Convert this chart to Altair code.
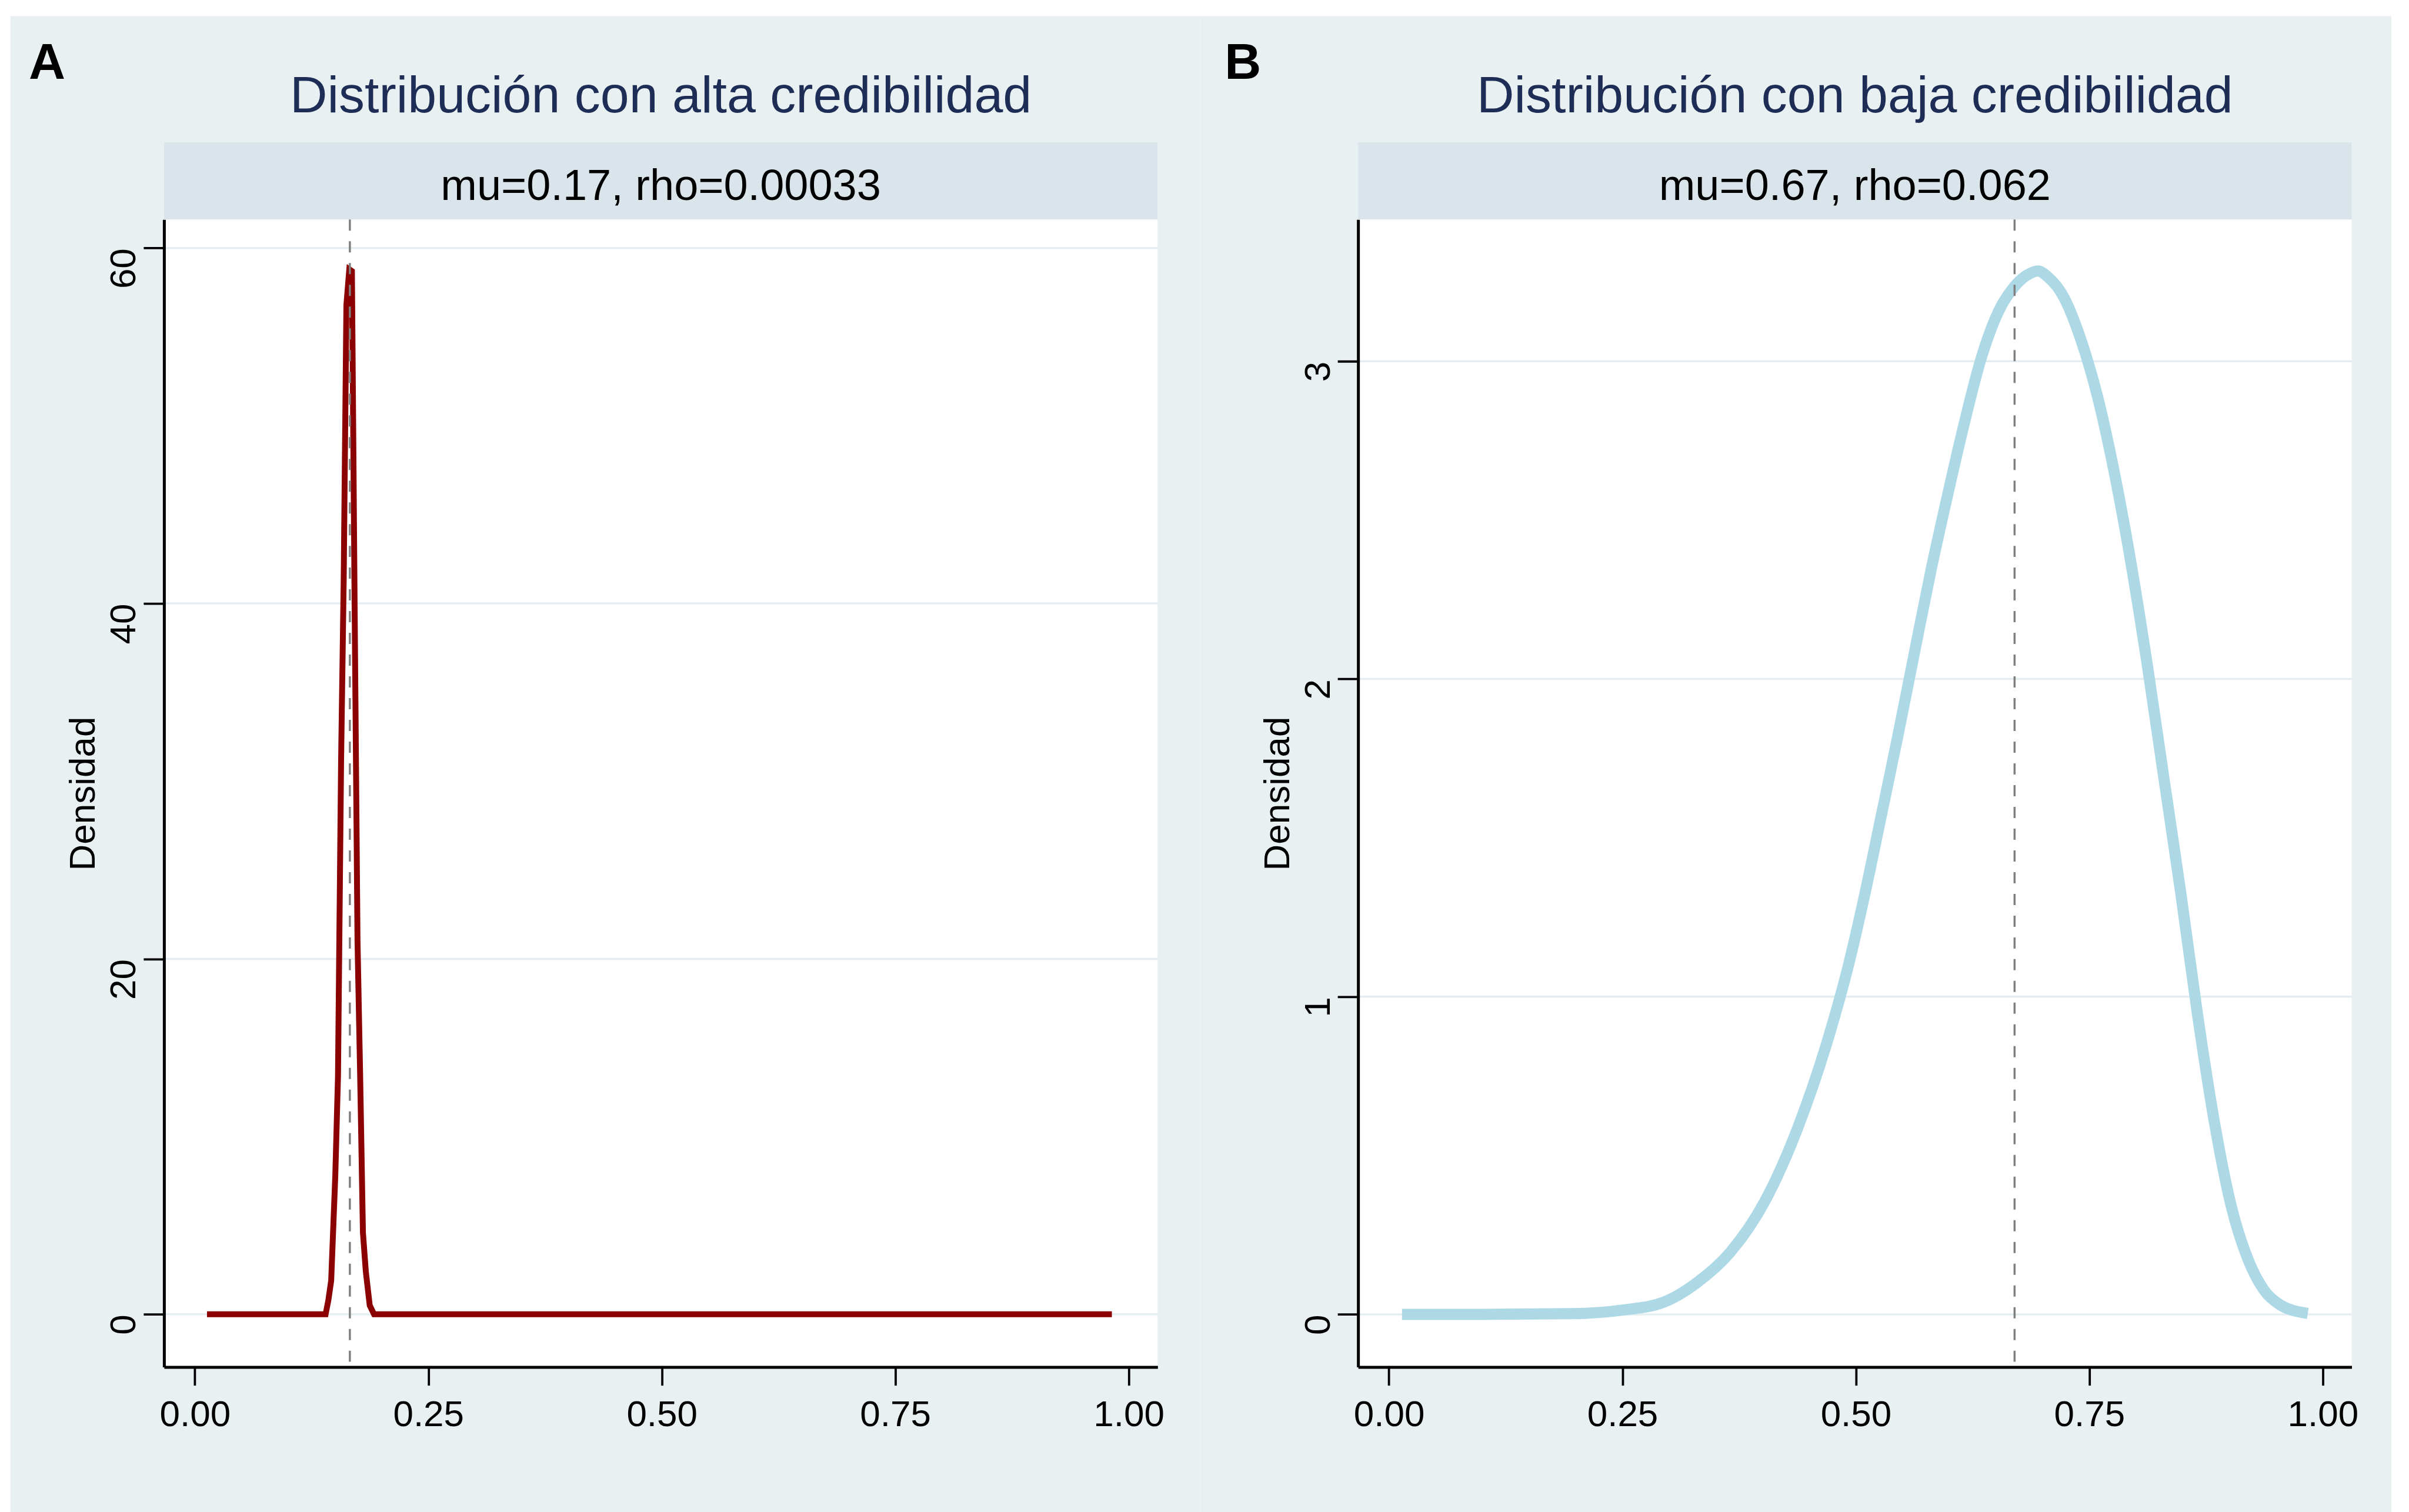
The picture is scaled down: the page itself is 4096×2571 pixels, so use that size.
import altair as alt
import pandas as pd

# ---- data -------------------------------------------------------------
# Panel A: narrow density (high credibility)
a_x = [0.013, 0.140, 0.143, 0.146, 0.1504, 0.1533, 0.1566, 0.1594, 0.1623, 0.1654,
       0.1682, 0.1697, 0.1711, 0.1742, 0.1770, 0.1800, 0.1831, 0.1873, 0.1919, 0.982]
a_y = [0.0, 0.0, 0.8, 1.9, 7.8, 13.4, 31.1, 41.3, 56.8, 58.8,
       58.7, 49.1, 39.9, 21.0, 13.5, 4.6, 2.4, 0.5, 0.0, 0.0]

# Panel B: wide density (low credibility)
b_x = [0.014, 0.100, 0.194, 0.2515, 0.294, 0.330, 0.366, 0.402, 0.437, 0.473,
       0.491, 0.509, 0.527, 0.544, 0.562, 0.580, 0.598, 0.616, 0.634, 0.652,
       0.670, 0.687, 0.695, 0.705, 0.723, 0.741, 0.759, 0.777, 0.795, 0.812,
       0.830, 0.848, 0.866, 0.884, 0.902, 0.920, 0.937, 0.955, 0.984]
b_y = [0.0, 0.0, 0.002, 0.014, 0.038, 0.100, 0.197, 0.353, 0.581, 0.894,
       1.086, 1.314, 1.566, 1.806, 2.071, 2.335, 2.575, 2.803, 3.007, 3.152,
       3.236, 3.277, 3.284, 3.267, 3.200, 3.068, 2.887, 2.647, 2.359, 2.047,
       1.686, 1.326, 0.942, 0.605, 0.341, 0.173, 0.077, 0.029, 0.003]

mus = [0.166, 0.67]
rhos = [0.00033, 0.062]
titles = ["Distribución con alta credibilidad", "Distribución con baja credibilidad"]
letters = ["A", "B"]

x_ticks = [0, 0.25, 0.5, 0.75, 1]
y_ticks_a = [0, 20, 40, 60]
y_ticks_b = [0, 1, 2, 3]
x_domain = [-0.033, 1.031]
y_domain_a = [-2.97, 61.6]
y_domain_b = [-0.166, 3.446]

# ---- styling ----------------------------------------------------------
FONT = "Liberation Sans"
BG = "#e8f0f2"
STRIP = "#d9e5eb"
GRID = "#e4edf0"
TITLE_COLOR = "#1e2d55"
W, H = 1690, 1952

one = pd.DataFrame({"k": [0]})

AXIS_STYLE = dict(zindex=1, grid=False, domainColor="black", domainWidth=5,
                  tickColor="black", tickWidth=3.8, labelColor="black",
                  labelFont=FONT, labelFontSize=62, labelFlush=False,
                  labelOverlap=False)


def x_enc():
    return alt.X(
        "x:Q",
        scale=alt.Scale(domain=x_domain, nice=False, zero=False),
        axis=alt.Axis(values=x_ticks, format=".2f", title="", tickSize=31,
                      labelPadding=69, labelBaseline="alphabetic",
                      **AXIS_STYLE),
    )


def y_enc(ticks, dom):
    return alt.Y(
        "y:Q",
        scale=alt.Scale(domain=dom, nice=False, zero=False),
        axis=alt.Axis(values=ticks, format="d", title="Densidad", tickSize=35,
                      labelPadding=14, labelAngle=270, labelAlign="right",
                      labelBaseline="alphabetic", titleAngle=270, titleX=-118,
                      titleY=H / 2, titleAlign="center",
                      titleBaseline="alphabetic", titleFont=FONT,
                      titleFontSize=62, titleColor="black",
                      titleFontWeight="normal", **AXIS_STYLE),
    )


def panel(i, xs, ys, y_ticks, y_dom, color, stroke_w, interp, bg_left, bg_right):
    curve_df = pd.DataFrame({"x": xs, "y": ys})
    grid_df = pd.DataFrame({"y": y_ticks})
    mu_df = pd.DataFrame({"x": [mus[i]]})
    strip_label = f"mu={mus[i]:.2f}, rho={rhos[i]:g}"

    background = alt.Chart(one).mark_rect(color=BG).encode(
        x=alt.value(bg_left), x2=alt.value(bg_right),
        y=alt.value(-346.2), y2=alt.value(2198.8))
    strip = alt.Chart(one).mark_rect(color=STRIP).encode(
        x=alt.value(0), x2=alt.value(W), y=alt.value(-131.1), y2=alt.value(0))
    plot_bg = alt.Chart(one).mark_rect(color="white").encode(
        x=alt.value(0), x2=alt.value(W), y=alt.value(0), y2=alt.value(H))
    grid = alt.Chart(grid_df).mark_rule(color=GRID, strokeWidth=3.5).encode(
        y=y_enc(y_ticks, y_dom))
    curve = alt.Chart(curve_df).mark_line(
        color=color, strokeWidth=stroke_w, interpolate=interp).encode(
        x=x_enc(), y=y_enc(y_ticks, y_dom))
    mu_rule = alt.Chart(mu_df).mark_rule(
        color="#808080", strokeWidth=3.5, strokeDash=[19, 18]).encode(x=x_enc())
    title = alt.Chart(one).mark_text(
        text=titles[i], font=FONT, fontSize=88, color=TITLE_COLOR,
        align="center", baseline="alphabetic").encode(
        x=alt.value(W / 2), y=alt.value(-182))
    strip_text = alt.Chart(one).mark_text(
        text=strip_label, font=FONT, fontSize=74, color="black",
        align="center", baseline="alphabetic").encode(
        x=alt.value(W / 2), y=alt.value(-33))
    letter = alt.Chart(one).mark_text(
        text=letters[i], font=FONT, fontSize=86, fontWeight="bold",
        color="black", align="left", baseline="alphabetic").encode(
        x=alt.value(-230 if i == 0 else -227), y=alt.value(-239))

    return alt.layer(background, strip, plot_bg, grid, curve, mu_rule,
                     title, strip_text, letter).properties(width=W, height=H)


panel_a = panel(0, a_x, a_y, y_ticks_a, y_domain_a, "#8b0000", 10, "linear",
                -261.3, 1761.7)
panel_b = panel(1, b_x, b_y, y_ticks_b, y_domain_b, "#add8e6", 19, "monotone",
                -269, 1757.5)

chart = (
    alt.hconcat(panel_a, panel_b, spacing=0)
    .properties(padding={"left": 17, "top": 26, "right": 29.5, "bottom": 0})
    .configure(font=FONT, background="white")
    .configure_view(strokeWidth=0)
)

chart.save("out.html", embed_options={"renderer": "svg", "actions": False})
